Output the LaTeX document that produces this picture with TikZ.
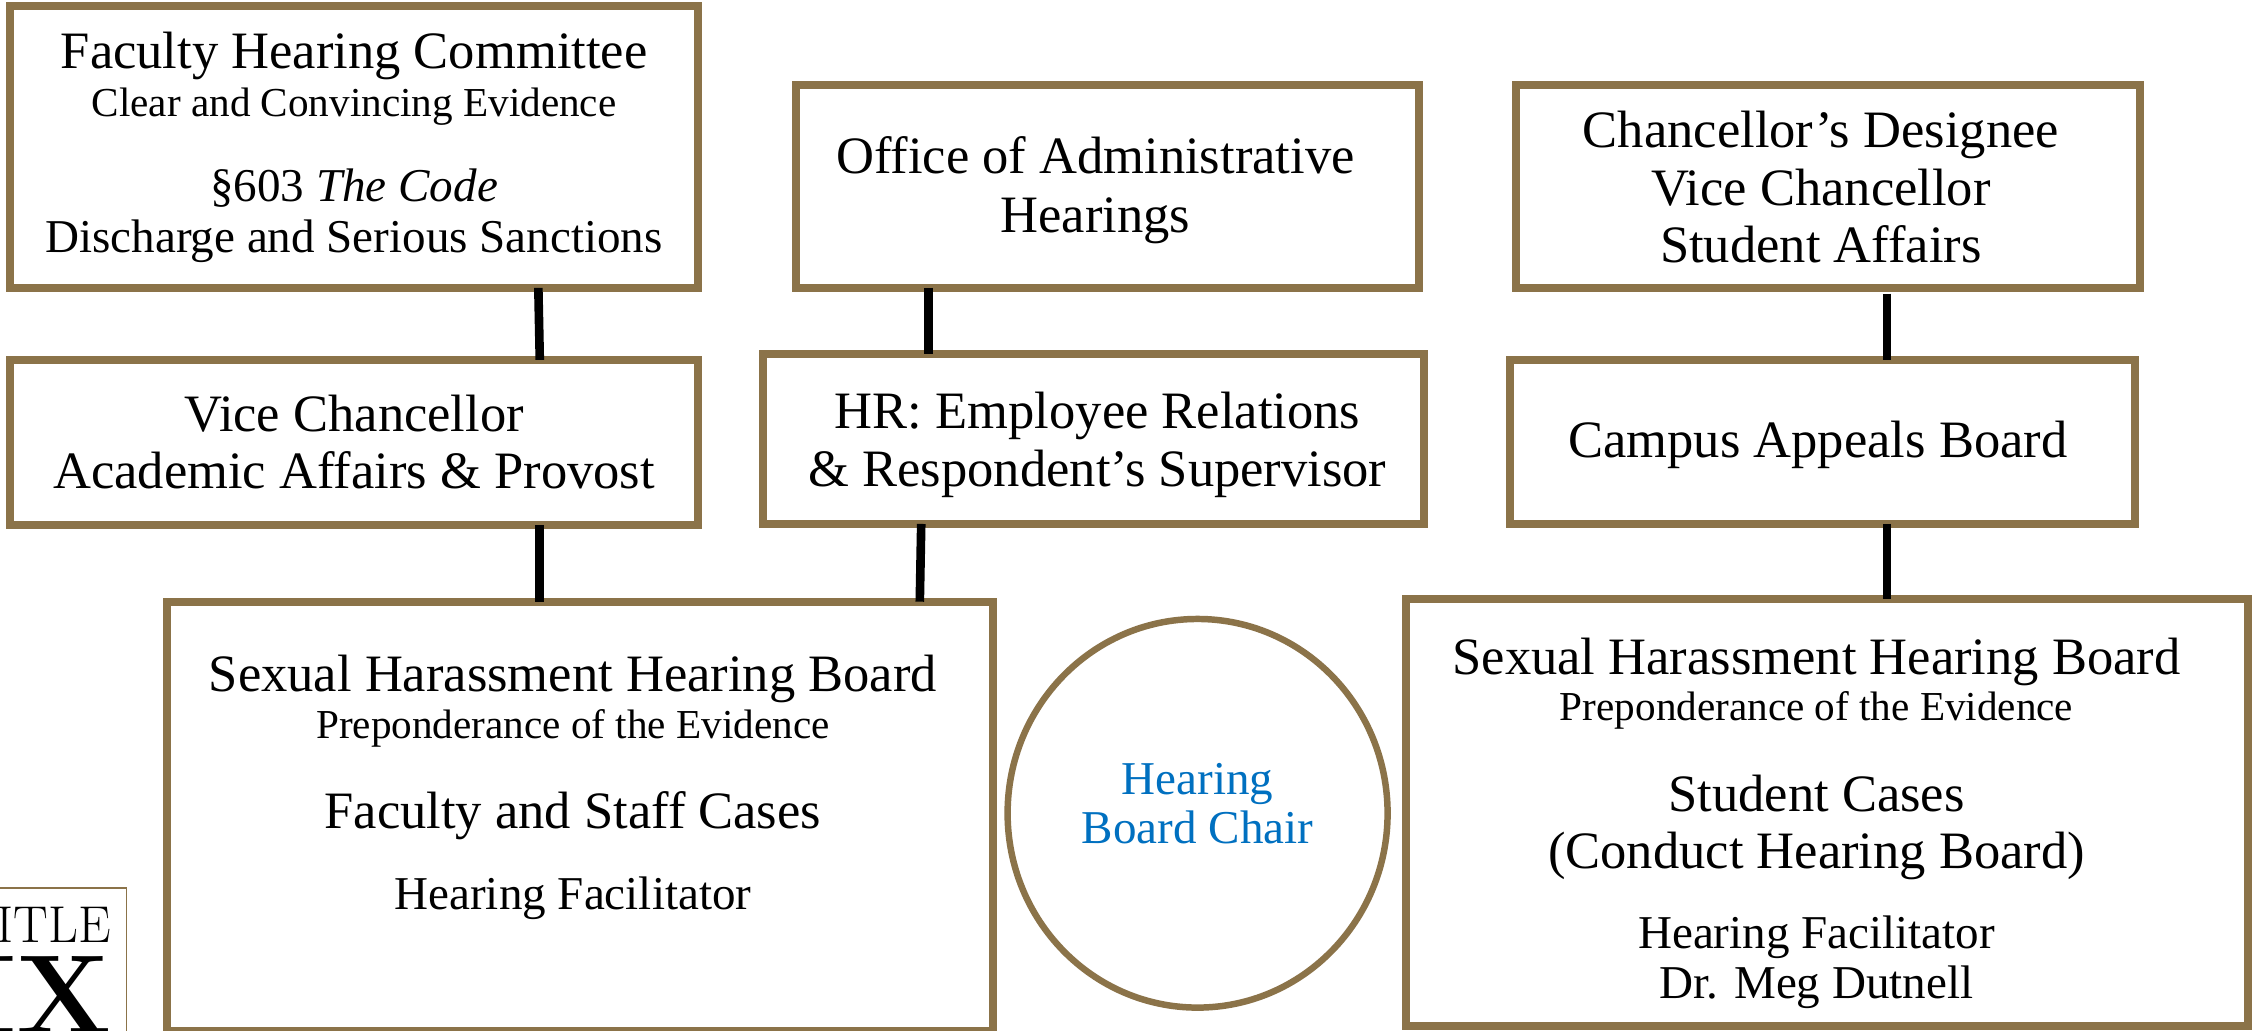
\documentclass[tikz,border=0pt]{standalone}
\usepackage{fontspec}
\usetikzlibrary{shapes.geometric}
\newfontfamily\palfont{Liberation Serif}
\definecolor{brownline}{HTML}{8B7349}
\definecolor{chairblue}{HTML}{0070C0}
% one line of text: optional x offset, baseline above node centre, size, text
\newcommand\tline[4][0]{\smash{\raisebox{\dimexpr#2pt-0.7pt\relax}{\makebox[0pt]{\kern#1pt\kern#1pt\palfont\fontsize{#3}{#3}\selectfont #4}}}}
\tikzset{
  x=1pt,y=-1pt,
  orgbox/.style={draw=brownline,line width=5.6pt,fill=white,inner sep=0pt,outer sep=0pt,rectangle},
  link/.style={draw=black,line width=6pt},
}
\newcommand\bsize{36.5}
\newcommand\ssize{28.6}
\newcommand\msize{32.7}
\begin{document}
\begin{tikzpicture}
\useasboundingbox (0,0) rectangle (1568,716);
\fill[white] (0,0) rectangle (1568,716);
% boxes (centre-line sizes)
\node[orgbox,minimum width=478pt,minimum height=196pt] (fhc) at (246,102) {%
  \tline{55}{\bsize}{Faculty Hearing Committee}%
  \tline{22}{\ssize}{Clear and Convincing Evidence}%
  \tline{-37}{\msize}{§603 \textit{The Code}}%
  \tline{-73}{\msize}{Discharge and Serious Sanctions}};
\node[orgbox,minimum width=478pt,minimum height=115pt] (vc) at (246,307.5) {%
  \tline{8.5}{\bsize}{Vice Chancellor}%
  \tline{-31.5}{\bsize}{Academic Affairs \& Provost}};
\node[orgbox,minimum width=433pt,minimum height=141pt] (oah) at (769.5,129.5) {%
  \tline[-8.5]{9.5}{\bsize}{Office of Administrative}%
  \tline[-8.5]{-31.5}{\bsize}{Hearings}};
\node[orgbox,minimum width=459pt,minimum height=118pt] (hr) at (759.5,305) {%
  \tline[3]{8}{\bsize}{HR: Employee Relations}%
  \tline[3]{-32}{\bsize}{\& Respondent’s Supervisor}};
\node[orgbox,minimum width=434pt,minimum height=141pt] (cd) at (1270,129.5) {%
  \tline[-5]{27.5}{\bsize}{Chancellor’s Designee}%
  \tline[-5]{-12.5}{\bsize}{Vice Chancellor}%
  \tline[-5]{-52.5}{\bsize}{Student Affairs}};
\node[orgbox,minimum width=434pt,minimum height=114pt] (cab) at (1266,307) {%
  \tline[-3]{-10}{\bsize}{Campus Appeals Board}};
\node[orgbox,minimum width=574pt,minimum height=298pt] (shl) at (403,567) {%
  \tline[-5]{87}{\bsize}{Sexual Harassment Hearing Board}%
  \tline[-5]{55}{\ssize}{Preponderance of the Evidence}%
  \tline[-5]{-8}{\bsize}{Faculty and Staff Cases}%
  \tline[-5]{-64}{\msize}{Hearing Facilitator}};
\node[orgbox,minimum width=585pt,minimum height=297pt] (shr) at (1269.5,564.5) {%
  \tline[-7.5]{96.5}{\bsize}{Sexual Harassment Hearing Board}%
  \tline[-7.5]{64.5}{\ssize}{Preponderance of the Evidence}%
  \tline[-7.5]{1.5}{\bsize}{Student Cases}%
  \tline[-7.5]{-38.5}{\bsize}{(Conduct Hearing Board)}%
  \tline[-7.5]{-93.5}{\msize}{Hearing Facilitator}%
  \tline[-7.5]{-128.5}{\msize}{Dr. Meg Dutnell}};
\node[draw=brownline,line width=4.5pt,fill=white,ellipse,inner sep=0pt,outer sep=0pt,
      minimum width=264pt,minimum height=270pt,text=chairblue] (chair) at (832,565) {%
  \tline{14}{\msize}{Hearing}%
  \tline{-20}{\msize}{Board Chair}};
% Title IX logo, cropped by the page edge
\node[draw=brownline,line width=1pt,fill=white,inner sep=0pt,outer sep=0pt,
      minimum width=108pt,minimum height=123pt] (logo) at (34,678.5) {};
\node[anchor=base east,inner sep=0pt,font=\fontsize{36}{36}\selectfont] (logotitle) at (77,655) {TITLE};
\node[anchor=base east,inner sep=0pt,font=\bfseries\fontsize{78}{78}\selectfont] (logonum) at (78,718) {IX};
% connectors
\draw[link] ([xshift=128pt]fhc.south) -- ([xshift=129pt]vc.north);
\draw[link] ([xshift=129pt]vc.south) -- ([xshift=-28pt]shl.north);
\draw[link] ([xshift=-124.5pt]oah.south) -- ([xshift=-114.5pt]hr.north);
\draw[link] ([xshift=-119.5pt]hr.south) -- ([xshift=236pt]shl.north);
\draw[link,shorten <=4pt] ([xshift=41pt]cd.south) -- ([xshift=45pt]cab.north);
\draw[link] ([xshift=45pt]cab.south) -- ([xshift=41.5pt]shr.north);
\end{tikzpicture}
\end{document}
